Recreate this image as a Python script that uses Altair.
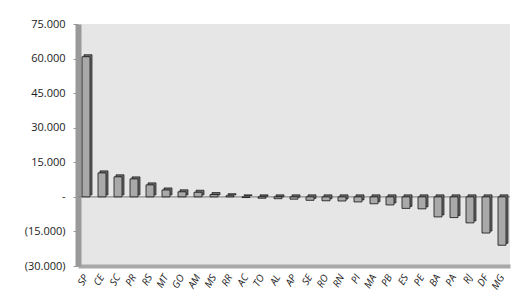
import altair as alt
import pandas as pd

states = ["SP","CE","SC","PR","RS","MT","GO","AM","MS","RR","AC","TO","AL","AP","SE",
          "RO","RN","PI","MA","PB","ES","PE","BA","PA","RJ","DF","MG"]
values = [60800, 10400, 8700, 7800, 5200, 3000, 2200, 2000, 1000, 500, -300, -600, -800,
          -1000, -1500, -1700, -1800, -2200, -3000, -3500, -5000, -5200, -8700, -9000,
          -11300, -15700, -21000]

df = pd.DataFrame({"uf": states, "v": values})

font = "Open Sans"
x = alt.X("uf:N", sort=states, title=None,
          scale=alt.Scale(paddingInner=0.5, paddingOuter=0.25),
          axis=alt.Axis(labelAngle=-60, labelAlign="right", labelBaseline="middle",
                        labelFont=font, labelFontSize=10, labelFontStyle="italic",
                        labelColor="#222", ticks=False, domainColor="#a8a8a8",
                        domainWidth=4, labelPadding=9))
y = alt.Y("v:Q", title=None,
          scale=alt.Scale(domain=[-30000, 75000], nice=False),
          axis=alt.Axis(values=[-30000, -15000, 0, 15000, 30000, 45000, 60000, 75000],
                        labelExpr="datum.value == 0 ? '-' : (datum.value < 0 ? '(' + replace(format(-datum.value, ','), ',', '.') + ')' : replace(format(datum.value, ','), ',', '.'))",
                        labelFont=font, labelFontSize=11, labelColor="#222",
                        labelOverlap=False, labelFlush=False, labelBound=False,
                        grid=False, domainColor="#999999", domainWidth=6,
                        tickColor="#999999", tickSize=5, labelPadding=8))

base = alt.Chart(df)
side = base.mark_bar(size=8, color="#6e6e6e", stroke="#111", strokeWidth=0.7,
                     xOffset=2, yOffset=-2).encode(x=x, y=y)
front = base.mark_bar(size=8, color="#a9a9a9", stroke="#111", strokeWidth=0.8).encode(x=x, y=y)
zero = alt.Chart(pd.DataFrame({"v": [0]})).mark_rule(color="#8c8c8c", strokeWidth=1.2).encode(y=y)

chart = alt.layer(zero, side, front).properties(
    width=432, height=242,
    autosize=alt.AutoSizeParams(type="none"),
    padding={"left": 70, "top": 16, "right": 10, "bottom": 30},
).configure_view(fill="#e6e6e6", stroke=None)

chart.save("out.html", embed_options={"renderer": "svg", "actions": False})
